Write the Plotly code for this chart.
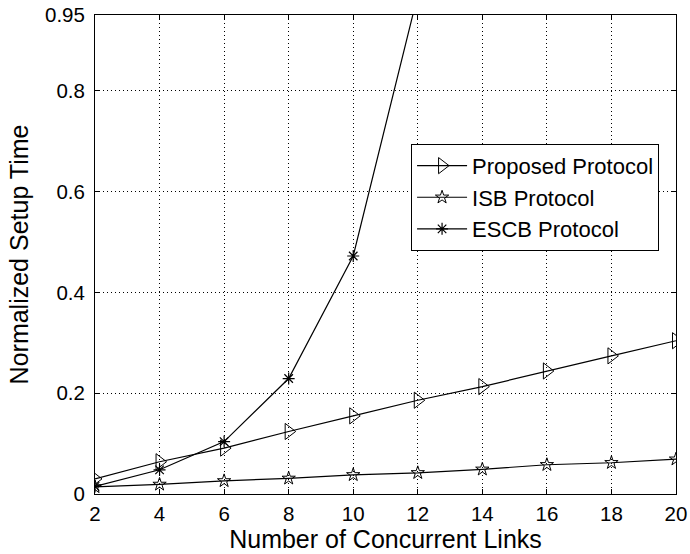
import plotly.graph_objects as go

links = [2, 4, 6, 8, 10, 12, 14, 16, 18, 20]
proposed = [0.030, 0.064, 0.091, 0.124, 0.155, 0.186, 0.213, 0.244, 0.274, 0.304]
isb = [0.014, 0.019, 0.026, 0.031, 0.038, 0.042, 0.049, 0.058, 0.062, 0.069]
escb_x = [2, 4, 6, 8, 10, 12]
escb = [0.015, 0.048, 0.104, 0.229, 0.472, 0.99]

y_ticks = [0, 0.2, 0.4, 0.6, 0.8, 0.95]
y_tick_text = ["0", "0.2", "0.4", "0.6", "0.8", "0.95"]

FONT = "Liberation Sans, Arial, sans-serif"

fig = go.Figure()
fig.add_trace(go.Scatter(
    x=links, y=proposed, mode="lines+markers", name="Proposed Protocol",
    line=dict(color="black", width=1.2),
    marker=dict(symbol="triangle-right-open", size=14, color="black", line=dict(width=1, color="black")),
))
fig.add_trace(go.Scatter(
    x=links, y=isb, mode="lines+markers", name="ISB Protocol",
    line=dict(color="black", width=1.2),
    marker=dict(symbol="star-open", size=10, color="black", line=dict(width=1, color="black")),
))
fig.add_trace(go.Scatter(
    x=escb_x, y=escb, mode="lines+markers", name="ESCB Protocol",
    line=dict(color="black", width=1.2),
    marker=dict(symbol="asterisk-open", size=10, color="black", line=dict(width=1.2, color="black")),
))

axis_common = dict(
    showline=True, linecolor="black", linewidth=1, mirror="ticks",
    ticks="inside", ticklen=5, tickcolor="black",
    showgrid=True, gridcolor="black", gridwidth=1, griddash="1px,3px",
    zeroline=False,
    tickfont=dict(family=FONT, size=20.5, color="black"),
)

fig.update_xaxes(
    range=[2, 20], tickvals=links,
    title=dict(text="Number of Concurrent Links", font=dict(family=FONT, size=25, color="black"), standoff=0),
    ticklabelstandoff=1,
    **axis_common,
)
fig.update_yaxes(
    range=[0, 0.95], tickvals=y_ticks, ticktext=y_tick_text,
    title=dict(text="Normalized Setup Time", font=dict(family=FONT, size=25, color="black"), standoff=9),
    ticklabelstandoff=5,
    **axis_common,
)

fig.update_layout(
    width=690, height=554,
    margin=dict(l=95, r=14, t=15, b=60, autoexpand=False),
    paper_bgcolor="white", plot_bgcolor="white",
    font=dict(family=FONT, color="black"),
    legend=dict(
        x=0.544, y=0.731, xanchor="left", yanchor="top",
        bgcolor="white", bordercolor="black", borderwidth=1,
        font=dict(family=FONT, size=22, color="black"),
        tracegroupgap=0, itemwidth=50,
    ),
    showlegend=True,
)

fig.write_html("out.html")
